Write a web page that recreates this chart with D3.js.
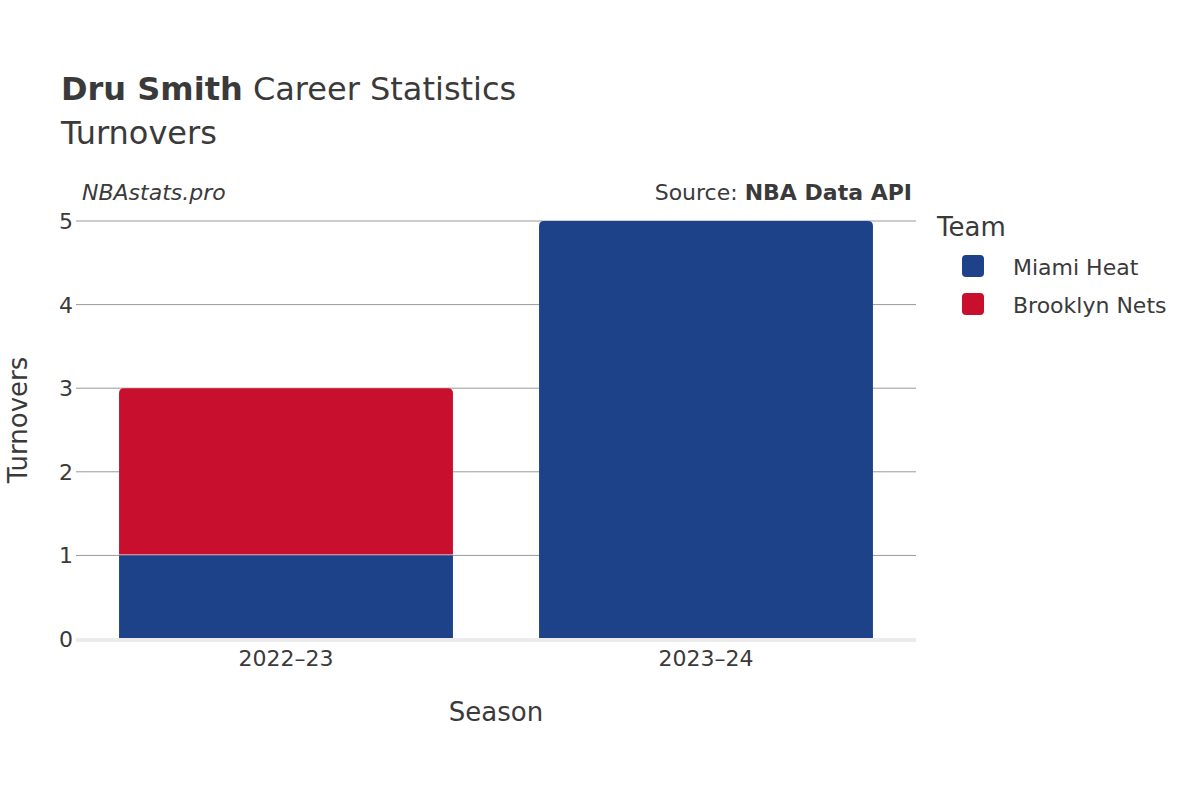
<!DOCTYPE html>
<html><head><meta charset="utf-8">
<script src="https://cdn.jsdelivr.net/npm/d3@7"></script>
<style>body{margin:0;background:#fff;font-family:"DejaVu Sans",sans-serif}</style>
</head><body><svg id="c" width="1200" height="800"></svg>
<script>
const seasons = ["2022–23","2023–24"];
const teams = ["Miami Heat","Brooklyn Nets"];
const colors = ["#1d428a","#c8102e"];
const miami = [1,5];
const brooklyn = [2,0];
const yTicks = [0,1,2,3,4,5];

const svg = d3.select("#c");
const col = "#3a3a3a";
const x = d3.scaleBand().domain(seasons).range([76,916]).paddingInner(0.205).paddingOuter(0.1025);
const y = d3.scaleLinear().domain([0,5]).range([639,221]);

svg.append("text").attr("x",61).attr("y",100).attr("font-size",32).attr("fill",col)
  .html('<tspan font-weight="bold">Dru Smith</tspan> Career Statistics');
svg.append("text").attr("x",61).attr("y",144).attr("font-size",32).attr("fill",col).text("Turnovers");
svg.append("text").attr("x",82).attr("y",200).attr("font-size",22).attr("font-style","italic").attr("fill",col).text("NBAstats.pro");
svg.append("text").attr("x",912).attr("y",200).attr("font-size",22).attr("text-anchor","end").attr("fill",col)
  .html('Source: <tspan font-weight="bold">NBA Data API</tspan>');

yTicks.forEach(t=>{
  if(t>0) svg.append("line").attr("x1",76).attr("x2",916).attr("y1",y(t)).attr("y2",y(t)).attr("stroke","#999").attr("stroke-width",1);
  svg.append("text").attr("x",73).attr("y",y(t)+8).attr("text-anchor","end").attr("font-size",22).attr("fill",col).text(t);
});

function topRound(x0,y0,w,h,r){
  return `M${x0},${y0+h}V${y0+r}Q${x0},${y0} ${x0+r},${y0}H${x0+w-r}Q${x0+w},${y0} ${x0+w},${y0+r}V${y0+h}Z`;
}
seasons.forEach((s,i)=>{
  const xs=x(s), w=x.bandwidth();
  const m=miami[i], b=brooklyn[i];
  const mTop = b>0;
  if(m>0){
    if(mTop) svg.append("rect").attr("x",xs).attr("y",y(m)).attr("width",w).attr("height",y(0)-y(m)).attr("fill",colors[0]);
    else svg.append("path").attr("d",topRound(xs,y(m),w,y(0)-y(m),5)).attr("fill",colors[0]);
  }
  if(b>0){
    svg.append("path").attr("d",topRound(xs,y(m+b),w,y(m)-y(m+b)-1,5)).attr("fill",colors[1]);
  }
  svg.append("text").attr("x",xs+w/2).attr("y",666).attr("text-anchor","middle").attr("font-size",22).attr("fill",col).text(s);
});
svg.append("line").attr("x1",76).attr("x2",916).attr("y1",640).attr("y2",640).attr("stroke","#ebebeb").attr("stroke-width",4);

svg.append("text").attr("x",496).attr("y",721).attr("text-anchor","middle").attr("font-size",26).attr("fill",col).text("Season");
svg.append("text").attr("transform","translate(27,420) rotate(-90)").attr("text-anchor","middle").attr("font-size",26).attr("fill",col).text("Turnovers");

svg.append("text").attr("x",937).attr("y",236).attr("font-size",26).attr("fill",col).text("Team");
teams.forEach((t,i)=>{
  const yy=266+i*38;
  svg.append("rect").attr("x",962).attr("y",yy-11).attr("width",22).attr("height",22).attr("rx",4).attr("fill",colors[i]);
  svg.append("text").attr("x",1013).attr("y",yy+9).attr("font-size",22).attr("fill",col).text(t);
});
</script></body></html>
